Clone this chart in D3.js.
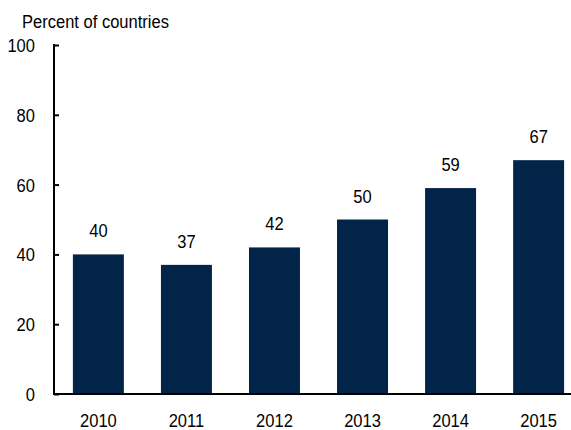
<!DOCTYPE html>
<html>
<head>
<meta charset="utf-8">
<script src="https://cdn.jsdelivr.net/npm/d3@7"></script>
<style>
  body { margin: 0; background: #fff; }
  text { font-family: "Liberation Sans", Arial, sans-serif; fill: #000; font-size: 19px; }
</style>
</head>
<body>
<svg id="chart" width="571" height="430"></svg>
<script>
// data
var years = ["2010", "2011", "2012", "2013", "2014", "2015"];
var values = [40, 37, 42, 50, 59, 67];
var yTicks = [0, 20, 40, 60, 80, 100];

var width = 571, height = 430;
var sx = 0.87; // narrow-ish font look
var svg = d3.select("#chart");

var x = d3.scaleBand()
    .domain(years)
    .range([54, 583])
    .paddingInner(0.421)
    .paddingOuter(0.2145);

var y = d3.scaleLinear()
    .domain([0, 100])
    .range([394, 45]);

function place(px, py) {
    return `translate(${px},${py}) scale(${sx},1)`;
}

// bars
svg.append("g")
    .selectAll("rect")
    .data(values)
    .join("rect")
    .attr("x", (d, i) => x(years[i]))
    .attr("y", d => y(d))
    .attr("width", x.bandwidth())
    .attr("height", d => y(0) - y(d))
    .attr("fill", "#022449");

// value labels
svg.append("g")
    .selectAll("text")
    .data(values)
    .join("text")
    .attr("transform", (d, i) => place(x(years[i]) + x.bandwidth() / 2, y(d) - 17))
    .attr("text-anchor", "middle")
    .text(d => d);

// y axis
var yAxis = d3.axisRight(y)
    .tickValues(yTicks)
    .tickSize(5)
    .tickFormat("");
var gy = svg.append("g")
    .attr("transform", "translate(54,0)")
    .call(yAxis);
gy.select(".domain").remove();
gy.selectAll(".tick line").attr("stroke", "#000").attr("stroke-width", 2);
svg.append("line")
    .attr("x1", 54).attr("x2", 54)
    .attr("y1", y(100) - 1).attr("y2", y(0) + 1)
    .attr("stroke", "#000").attr("stroke-width", 2);

svg.append("g")
    .selectAll("text")
    .data(yTicks)
    .join("text")
    .attr("transform", d => place(35, y(d) + 7))
    .attr("text-anchor", "end")
    .text(d => d);

// x axis line
svg.append("line")
    .attr("x1", 53).attr("x2", width)
    .attr("y1", y(0)).attr("y2", y(0))
    .attr("stroke", "#000").attr("stroke-width", 2);

svg.append("g")
    .selectAll("text")
    .data(years)
    .join("text")
    .attr("transform", d => place(x(d) + x.bandwidth() / 2, 427))
    .attr("text-anchor", "middle")
    .text(d => d);

// unit label
svg.append("text")
    .attr("transform", place(22, 28))
    .text("Percent of countries");
</script>
</body>
</html>
